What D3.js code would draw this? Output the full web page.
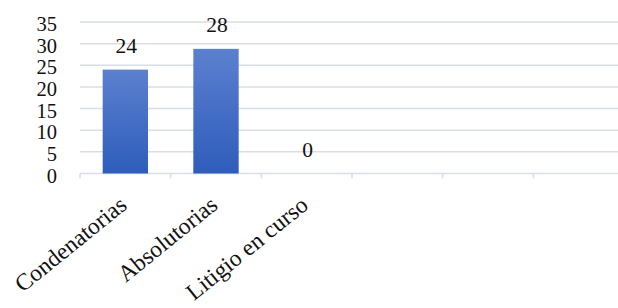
<!DOCTYPE html>
<html><head><meta charset="utf-8">
<script src="https://cdn.jsdelivr.net/npm/d3@7"></script>
<style>html,body{margin:0;padding:0;background:#fff;overflow:hidden}
svg text{font-family:"Liberation Serif","Times New Roman",serif !important;}</style>
</head><body><svg id="c" width="618" height="308"></svg>
<script>
const categories = ["Condenatorias", "Absolutorias", "Litigio en curso", "", "", ""];
const values = [24, 28.8, 0];
const dataLabels = ["24", "28", "0"];
const yTicks = [0, 5, 10, 15, 20, 25, 30, 35];

const svg = d3.select("#c");
const m = {left: 80, right: 624, top: 22, bottom: 173.5};
const slots = d3.range(categories.length);
const x = d3.scaleBand().domain(slots).range([m.left, m.right]).paddingInner(0.5).paddingOuter(0.25);
const xb = d3.scaleBand().domain(slots).range([m.left, m.right]);
const y = d3.scaleLinear().domain([0, 35]).range([m.bottom, m.top]);

const defs = svg.append("defs");
const g = defs.append("linearGradient").attr("id", "bg").attr("x1", 0).attr("y1", 0).attr("x2", 0).attr("y2", 1);
g.append("stop").attr("offset", "0%").attr("stop-color", "#5b80cf");
g.append("stop").attr("offset", "100%").attr("stop-color", "#2e5dbb");

const font = "Liberation Serif";

// gridlines
svg.append("g").selectAll("line").data(yTicks.filter(d => d > 0)).join("line")
  .attr("x1", m.left).attr("x2", m.right)
  .attr("y1", d => y(d)).attr("y2", d => y(d))
  .attr("stroke", "#d9dde6").attr("stroke-width", 1.5);

// y axis labels
const ya = svg.append("g").attr("transform", `translate(${m.left},0)`)
  .call(d3.axisLeft(y).tickValues(yTicks).tickSize(0).tickPadding(23));
ya.select(".domain").remove();
ya.attr("font-family", font);
ya.selectAll("text").attr("font-size", 20.5).attr("fill", "#111").attr("dy", "0.42em");

// x axis
const xa = svg.append("g").attr("transform", `translate(0,${m.bottom})`);
xa.append("line").attr("x1", m.left).attr("x2", m.right).attr("stroke", "#d9dde6").attr("stroke-width", 1.5);
xa.selectAll("line.tk").data(d3.range(categories.length + 1)).join("line").attr("class", "tk")
  .attr("x1", d => m.left + d * xb.bandwidth()).attr("x2", d => m.left + d * xb.bandwidth())
  .attr("y1", 0).attr("y2", 5).attr("stroke", "#d9dde6").attr("stroke-width", 1.5);

svg.append("g").selectAll("text").data(slots.filter(i => categories[i])).join("text")
  .attr("transform", i => `translate(${xb(i) + xb.bandwidth() / 2 + 3},${m.bottom + 34}) rotate(-39)`)
  .attr("text-anchor", "end")
  .attr("font-family", font).attr("font-size", 23.5).attr("fill", "#111")
  .text(i => categories[i]);

// bars
svg.append("g").selectAll("rect").data(values).join("rect")
  .attr("x", (d, i) => x(i)).attr("width", x.bandwidth())
  .attr("y", d => y(d)).attr("height", d => y(0) - y(d))
  .attr("fill", "url(#bg)");

// data labels
svg.append("g").selectAll("text").data(values).join("text")
  .attr("x", (d, i) => x(i) + x.bandwidth() / 2 + 1)
  .attr("y", d => y(d) - 17)
  .attr("text-anchor", "middle")
  .attr("font-family", font).attr("font-size", 21.5).attr("fill", "#111")
  .text((d, i) => dataLabels[i]);
</script></body></html>
